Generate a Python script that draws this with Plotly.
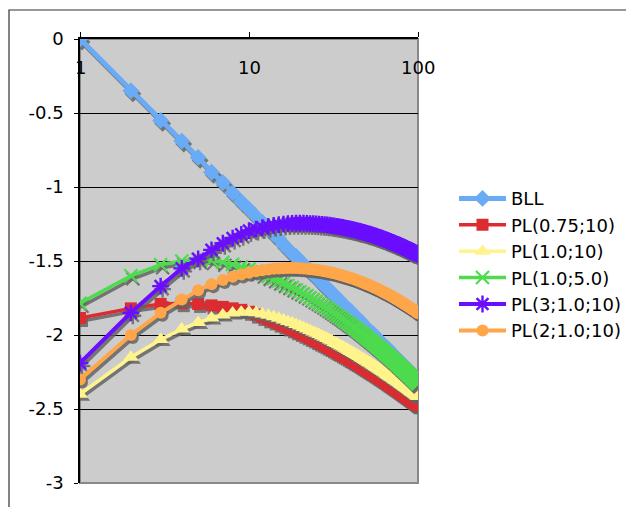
import math
import plotly.graph_objects as go

# ---------------- data ----------------
x_values = list(range(1, 101))

bll = [0.00, -0.35, -0.55, -0.69, -0.80, -0.90, -0.97, -1.04, -1.10, -1.15,
       -1.20, -1.24, -1.28, -1.32, -1.35, -1.39, -1.42, -1.45, -1.47, -1.50,
       -1.52, -1.55, -1.57, -1.59, -1.61, -1.63, -1.65, -1.67, -1.68, -1.70,
       -1.72, -1.73, -1.75, -1.76, -1.78, -1.79, -1.81, -1.82, -1.83, -1.84,
       -1.86, -1.87, -1.88, -1.89, -1.90, -1.91, -1.93, -1.94, -1.95, -1.96,
       -1.97, -1.98, -1.99, -1.99, -2.00, -2.01, -2.02, -2.03, -2.04, -2.05,
       -2.06, -2.06, -2.07, -2.08, -2.09, -2.09, -2.10, -2.11, -2.12, -2.12,
       -2.13, -2.14, -2.15, -2.15, -2.16, -2.17, -2.17, -2.18, -2.18, -2.19,
       -2.20, -2.20, -2.21, -2.22, -2.22, -2.23, -2.23, -2.24, -2.24, -2.25,
       -2.26, -2.26, -2.27, -2.27, -2.28, -2.28, -2.29, -2.29, -2.30, -2.30]

pl_075_10 = [-1.885, -1.820, -1.790, -1.785, -1.790, -1.800, -1.810, -1.820, -1.830, -1.843,
             -1.862, -1.878, -1.894, -1.908, -1.923, -1.936, -1.949, -1.962, -1.975, -1.986,
             -1.998, -2.009, -2.020, -2.030, -2.041, -2.051, -2.060, -2.070, -2.079, -2.088,
             -2.097, -2.106, -2.115, -2.122, -2.131, -2.139, -2.146, -2.154, -2.162, -2.169,
             -2.177, -2.184, -2.190, -2.197, -2.204, -2.211, -2.218, -2.224, -2.231, -2.237,
             -2.244, -2.249, -2.255, -2.261, -2.267, -2.273, -2.279, -2.284, -2.290, -2.295,
             -2.301, -2.306, -2.311, -2.317, -2.322, -2.328, -2.332, -2.338, -2.343, -2.347,
             -2.352, -2.357, -2.362, -2.366, -2.371, -2.376, -2.380, -2.385, -2.390, -2.394,
             -2.398, -2.403, -2.407, -2.411, -2.415, -2.419, -2.424, -2.428, -2.432, -2.436,
             -2.440, -2.444, -2.448, -2.452, -2.456, -2.460, -2.464, -2.467, -2.472, -2.475]

pl_10_10 = [-2.400, -2.150, -2.030, -1.960, -1.915, -1.885, -1.865, -1.852, -1.847, -1.845,
            -1.850, -1.858, -1.867, -1.877, -1.887, -1.898, -1.908, -1.918, -1.929, -1.939,
            -1.949, -1.959, -1.969, -1.979, -1.988, -1.997, -2.006, -2.015, -2.024, -2.033,
            -2.041, -2.050, -2.058, -2.066, -2.074, -2.081, -2.089, -2.097, -2.104, -2.111,
            -2.119, -2.125, -2.132, -2.139, -2.146, -2.153, -2.159, -2.165, -2.172, -2.178,
            -2.185, -2.190, -2.196, -2.202, -2.208, -2.214, -2.220, -2.225, -2.231, -2.236,
            -2.241, -2.247, -2.252, -2.257, -2.263, -2.268, -2.273, -2.278, -2.283, -2.288,
            -2.292, -2.297, -2.302, -2.307, -2.311, -2.316, -2.320, -2.325, -2.330, -2.334,
            -2.338, -2.343, -2.347, -2.351, -2.355, -2.360, -2.364, -2.368, -2.372, -2.376,
            -2.380, -2.385, -2.388, -2.392, -2.396, -2.400, -2.404, -2.407, -2.412, -2.415]

pl_10_50 = [-1.785, -1.600, -1.525, -1.500, -1.490, -1.496, -1.508, -1.523, -1.539, -1.555,
            -1.571, -1.588, -1.604, -1.620, -1.635, -1.651, -1.665, -1.680, -1.695, -1.708,
            -1.722, -1.735, -1.748, -1.761, -1.773, -1.786, -1.797, -1.809, -1.820, -1.832,
            -1.843, -1.854, -1.865, -1.874, -1.885, -1.895, -1.905, -1.915, -1.924, -1.933,
            -1.943, -1.952, -1.960, -1.969, -1.978, -1.987, -1.995, -2.003, -2.012, -2.020,
            -2.028, -2.036, -2.043, -2.051, -2.059, -2.066, -2.074, -2.081, -2.088, -2.095,
            -2.102, -2.109, -2.116, -2.123, -2.130, -2.137, -2.143, -2.150, -2.156, -2.163,
            -2.169, -2.175, -2.181, -2.187, -2.194, -2.200, -2.205, -2.212, -2.218, -2.223,
            -2.229, -2.235, -2.240, -2.246, -2.251, -2.257, -2.263, -2.267, -2.273, -2.278,
            -2.284, -2.289, -2.294, -2.299, -2.305, -2.309, -2.315, -2.319, -2.325, -2.330]

pl_3_10_10 = [-2.190, -1.850, -1.670, -1.550, -1.485, -1.425, -1.380, -1.345, -1.320, -1.295,
              -1.285, -1.274, -1.266, -1.259, -1.254, -1.251, -1.248, -1.246, -1.245, -1.245,
              -1.245, -1.246, -1.247, -1.248, -1.249, -1.251, -1.252, -1.254, -1.256, -1.258,
              -1.261, -1.263, -1.266, -1.268, -1.271, -1.273, -1.276, -1.279, -1.281, -1.284,
              -1.287, -1.290, -1.293, -1.296, -1.299, -1.302, -1.305, -1.307, -1.310, -1.314,
              -1.317, -1.319, -1.322, -1.325, -1.328, -1.331, -1.334, -1.337, -1.340, -1.343,
              -1.346, -1.349, -1.352, -1.355, -1.358, -1.361, -1.364, -1.367, -1.370, -1.373,
              -1.376, -1.378, -1.381, -1.384, -1.387, -1.390, -1.393, -1.396, -1.399, -1.401,
              -1.404, -1.407, -1.410, -1.412, -1.415, -1.418, -1.421, -1.423, -1.426, -1.429,
              -1.432, -1.435, -1.437, -1.440, -1.443, -1.445, -1.448, -1.450, -1.453, -1.456]

pl_2_10_10 = [-2.300, -2.000, -1.850, -1.760, -1.697, -1.657, -1.628, -1.607, -1.591, -1.579,
              -1.569, -1.562, -1.557, -1.553, -1.551, -1.549, -1.548, -1.548, -1.548, -1.549,
              -1.551, -1.553, -1.555, -1.557, -1.560, -1.563, -1.566, -1.569, -1.572, -1.576,
              -1.579, -1.583, -1.587, -1.591, -1.595, -1.599, -1.603, -1.607, -1.611, -1.615,
              -1.619, -1.623, -1.627, -1.631, -1.636, -1.640, -1.644, -1.648, -1.653, -1.657,
              -1.661, -1.665, -1.669, -1.674, -1.678, -1.682, -1.686, -1.690, -1.695, -1.699,
              -1.703, -1.707, -1.711, -1.715, -1.719, -1.723, -1.727, -1.732, -1.735, -1.739,
              -1.743, -1.747, -1.751, -1.755, -1.759, -1.763, -1.766, -1.771, -1.775, -1.778,
              -1.782, -1.786, -1.790, -1.793, -1.797, -1.801, -1.805, -1.808, -1.812, -1.816,
              -1.820, -1.823, -1.826, -1.830, -1.834, -1.837, -1.841, -1.845, -1.849, -1.852]

series_names = ["BLL", "PL(0.75;10)", "PL(1.0;10)", "PL(1.0;5.0)", "PL(3;1.0;10)", "PL(2;1.0;10)"]
series_values = [bll, pl_075_10, pl_10_10, pl_10_50, pl_3_10_10, pl_2_10_10]

x_tick_vals = [1, 10, 100]
x_tick_text = ["1", "10", "100"]
y_tick_vals = [0, -0.5, -1, -1.5, -2, -2.5, -3]
y_tick_text = ["0", "-0.5", "-1", "-1.5", "-2", "-2.5", "-3"]

# ---------------- styles ----------------
colors = ["#6AABF5", "#DC2B31", "#FFF38C", "#4EDB4E", "#6A0EFF", "#FFA64A"]
symbols = ["diamond", "square", "triangle-up", "x-thin-open", "asterisk-open", "circle"]
msizes = [13, 12, 14, 13, 14, 12]
mline = [0, 0, 0, 2.2, 2.4, 0]
lwidths = [5, 3.5, 3.5, 3.5, 4, 4]
shadow = "rgba(100,100,100,0.85)"

# page body has an 8px margin; figure coordinates are screen - 8
W, H = 634, 507
ML, MT = 72, 31
plot_w, plot_h = 338, 444
MR = W - ML - plot_w
MB = H - MT - plot_h
px_per_decade = plot_w / 2.0
px_per_unit = plot_h / 3.0
DX, DY = 2.0, 3.0
x_shadow_factor = 10 ** (DX / px_per_decade)
y_shadow_shift = DY / px_per_unit

FONT = "DejaVu Sans, Verdana, sans-serif"

fig = go.Figure()
for i, (name, vals, c, s, ms, ml, lw) in enumerate(
        zip(series_names, series_values, colors, symbols, msizes, mline, lwidths)):
    fig.add_trace(go.Scatter(
        x=[v * x_shadow_factor for v in x_values],
        y=[v - y_shadow_shift for v in vals],
        mode="lines+markers", showlegend=False, hoverinfo="skip",
        legendgroup=f"g{i}",
        line=dict(color=shadow, width=lw),
        marker=dict(symbol=s, size=ms, color=shadow,
                    line=dict(color=shadow, width=ml)),
    ))
    fig.add_trace(go.Scatter(
        x=x_values, y=vals, name=name, mode="lines+markers",
        legendgroup=f"g{i}",
        line=dict(color=c, width=lw),
        marker=dict(symbol=s, size=ms, color=c, line=dict(color=c, width=ml)),
    ))

annotations = [
    dict(x=math.log10(v), y=1, xref="x", yref="paper", text=t, showarrow=False,
         yanchor="middle", xanchor="center", yshift=-28,
         font=dict(family=FONT, size=18, color="black"))
    for v, t in zip(x_tick_vals, x_tick_text)
]

fig.update_layout(
    width=W, height=H,
    margin=dict(l=ML, r=MR, t=MT, b=MB, autoexpand=False),
    paper_bgcolor="white", plot_bgcolor="#CCCCCC",
    font=dict(family=FONT, size=18, color="black"),
    legend=dict(x=(446 - ML) / plot_w, y=0.682, xanchor="left", yanchor="top",
                bgcolor="rgba(0,0,0,0)", font=dict(family=FONT, size=18),
                tracegroupgap=0, itemwidth=47),
    xaxis=dict(type="log", range=[0, 2], side="top", automargin=False,
               tickvals=x_tick_vals, showticklabels=False,
               ticks="outside", ticklen=5, tickcolor="black",
               showgrid=False, zeroline=False,
               showline=True, linecolor="black", linewidth=1.5),
    yaxis=dict(range=[-3, 0], tickvals=y_tick_vals, ticktext=y_tick_text,
               automargin=False,
               ticks="outside", ticklen=4, tickcolor="black",
               ticklabelstandoff=7,
               showgrid=True, gridcolor="black", gridwidth=1,
               zeroline=False, showline=True, linecolor="black", linewidth=1.5),
    annotations=annotations,
    shapes=[
        dict(type="rect", xref="paper", yref="paper", x0=0, x1=1, y0=0, y1=1,
             line=dict(color="#888888", width=2), layer="below"),
        dict(type="rect", xref="paper", yref="paper",
             x0=(1 - ML) / plot_w, x1=(W + 20 - ML) / plot_w,
             y0=-(H + 20 - MT - plot_h) / plot_h, y1=(MT + plot_h - 2) / plot_h,
             line=dict(color="#333333", width=1.2), layer="below"),
    ],
)

fig.write_html("out.html")
